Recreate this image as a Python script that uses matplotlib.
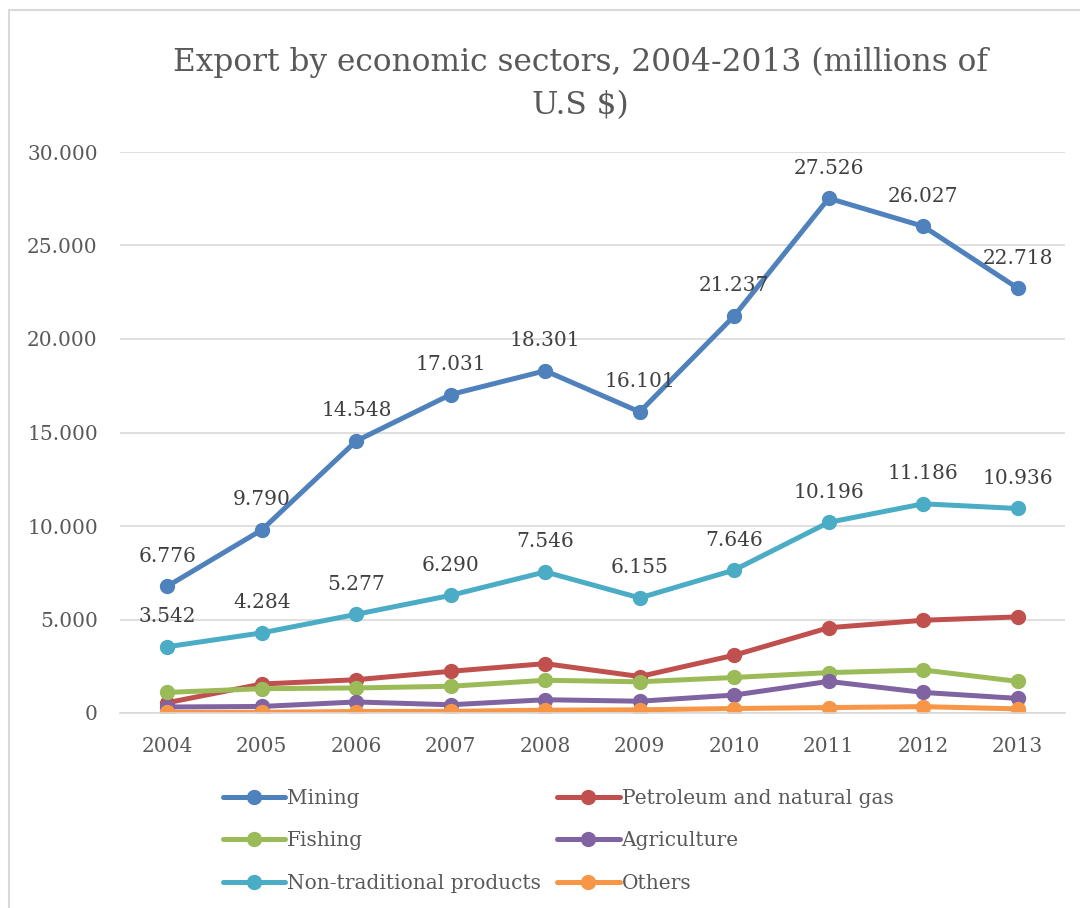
import matplotlib
matplotlib.use('Agg')
import matplotlib.pyplot as plt
from matplotlib.patches import Rectangle
from matplotlib.ticker import FuncFormatter

years = ['2004', '2005', '2006', '2007', '2008', '2009', '2010', '2011', '2012', '2013']

mining = [6776, 9790, 14548, 17031, 18301, 16101, 21237, 27526, 26027, 22718]
petroleum = [550, 1550, 1780, 2230, 2640, 1950, 3090, 4560, 4960, 5140]
fishing = [1100, 1300, 1340, 1430, 1750, 1670, 1900, 2160, 2300, 1690]
agriculture = [320, 350, 590, 440, 710, 630, 960, 1690, 1100, 780]
non_traditional = [3542, 4284, 5277, 6290, 7546, 6155, 7646, 10196, 11186, 10936]
others = [30, 40, 80, 90, 150, 170, 240, 290, 340, 220]

names = ['Mining', 'Petroleum and natural gas', 'Fishing', 'Agriculture',
         'Non-traditional products', 'Others']
series = [mining, petroleum, fishing, agriculture, non_traditional, others]
colors = ['#4F81BD', '#C0504D', '#9BBB59', '#8064A2', '#4BACC6', '#F79646']
labelled = ['Mining', 'Non-traditional products']

plt.rcParams['font.family'] = ['DejaVu Serif']
text_col = '#595959'

fig = plt.figure(figsize=(10.8, 9.08), dpi=100)
ax = fig.add_axes([120 / 1080, 1 - 713 / 908, 945 / 1080, (713 - 152) / 908])

x = list(range(len(years)))
lines = []
for name, vals, col in zip(names, series, colors):
    ln, = ax.plot(x, vals, color=col, lw=3.6, marker='o', ms=10, label=name,
                  solid_capstyle='round', solid_joinstyle='round')
    lines.append(ln)
    if name in labelled:
        for xi, v in zip(x, vals):
            ax.annotate(f"{v:,}".replace(',', '.'), (xi, v), xytext=(0, 30),
                        textcoords='offset pixels', ha='center', va='center',
                        fontsize=14.5, color='#404040')

ax.set_xlim(-0.5, len(years) - 0.5)
ax.set_ylim(0, 30000)
ax.set_yticks(range(0, 30001, 5000))
ax.yaxis.set_major_formatter(FuncFormatter(lambda v, p: f"{v:,.0f}".replace(',', '.')))
ax.set_xticks(x)
ax.set_xticklabels(years)
ax.tick_params(axis='both', length=0, labelsize=14.5, colors=text_col)
ax.tick_params(axis='y', pad=16)
ax.tick_params(axis='x', pad=17)
ax.grid(axis='y', color='#d9d9d9', lw=1.2)
ax.set_axisbelow(True)
for s in ['top', 'right', 'left']:
    ax.spines[s].set_visible(False)
ax.spines['bottom'].set_color('#d9d9d9')
ax.spines['bottom'].set_linewidth(1.2)

fig.text(580 / 1080, 1 - 84 / 908, 'Export by economic sectors, 2004-2013 (millions of\nU.S $)',
         ha='center', va='center', fontsize=22.5, color=text_col, linespacing=1.52)

# legend fills row by row in the reference
order = [0, 2, 4, 1, 3, 5]
leg = fig.legend([lines[i] for i in order], [names[i] for i in order],
                 loc='center', bbox_to_anchor=(558 / 1080, 1 - 841 / 908), ncol=2,
                 frameon=False, fontsize=14.5, handlelength=3.1, handletextpad=0.1,
                 columnspacing=0.8, labelspacing=1.17)
for t in leg.get_texts():
    t.set_color(text_col)

fig.patches.append(Rectangle((9 / 1080, -0.05), 1.2, 1 - 10 / 908 + 0.05,
                             transform=fig.transFigure, fill=False,
                             edgecolor='#d9d9d9', lw=1.5))

fig.savefig('out.png', dpi=100)
